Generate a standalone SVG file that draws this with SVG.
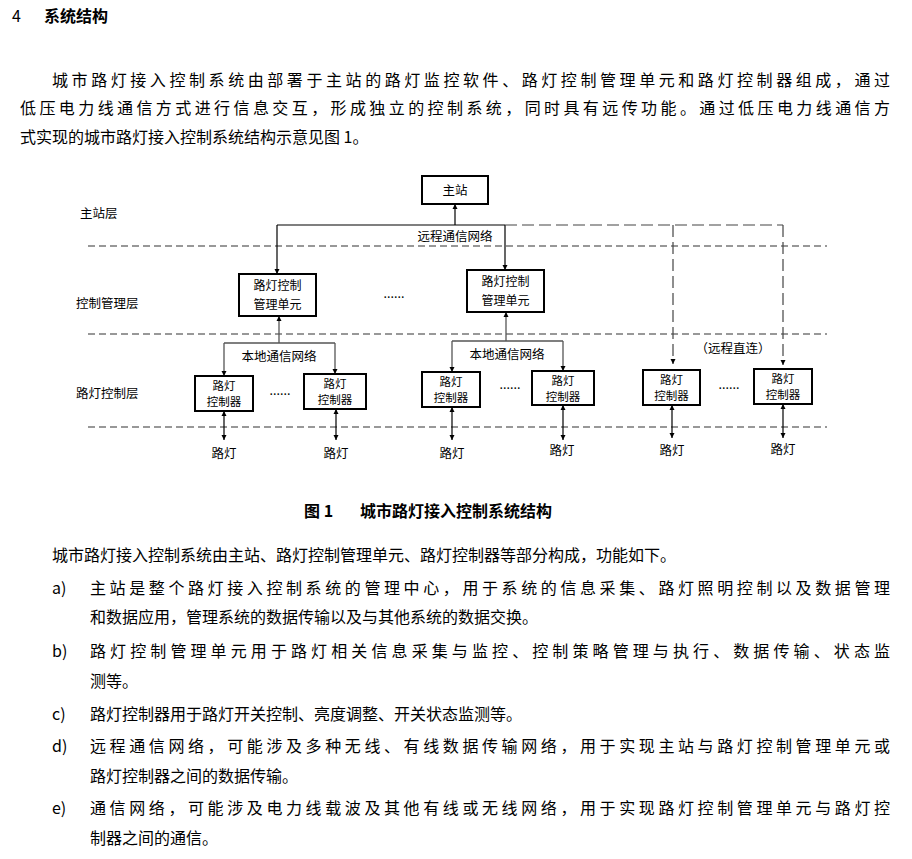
<svg xmlns="http://www.w3.org/2000/svg" width="912" height="859" viewBox="0 0 912 859">
<defs>
<marker id="a" viewBox="0 0 10 10" refX="10" refY="5" markerWidth="5" markerHeight="7" orient="auto-start-reverse" markerUnits="userSpaceOnUse"><path d="M0,0L10,5L0,10z" fill="#000"/></marker>
</defs>
<style>
text{font-family:"Noto Sans CJK SC","Liberation Serif",serif;fill:#000}
.b{font-size:16px}
.d{font-size:12.5px}
.c{font-size:11.5px}
.m{font-size:12px}
.bx{fill:#fff;stroke:#000;stroke-width:2}
.ln{stroke:#000;stroke-width:1.2;fill:none}
.g{stroke:#555;stroke-width:1.3;fill:none}
.dl{stroke:#777;stroke-width:1.5;stroke-dasharray:7,4;fill:none}
.dv{stroke:#444;stroke-width:1.2;stroke-dasharray:12,5;fill:none}
</style>
<rect width="912" height="859" fill="#fff"/>
<text x="12" y="22" class="b">4</text>
<text x="44" y="22" class="b" font-weight="bold">系统结构</text>
<text x="52" y="86" class="b" textLength="838" lengthAdjust="spacing">城市路灯接入控制系统由部署于主站的路灯监控软件、路灯控制管理单元和路灯控制器组成，通过</text>
<text x="20" y="114" class="b" textLength="870" lengthAdjust="spacing">低压电力线通信方式进行信息交互，形成独立的控制系统，同时具有远传功能。通过低压电力线通信方</text>
<text x="20" y="143" class="b">式实现的城市路灯接入控制系统结构示意见图 1。</text>

<g id="layers">
<path class="dl" d="M88,246H827M88,334H827M88,427H827"/>
<text x="80" y="218" class="d">主站层</text>
<text x="76" y="308" class="d">控制管理层</text>
<text x="76" y="398" class="d">路灯控制层</text>
</g>

<g id="connectors">
<path class="ln" d="M455,225V204" marker-end="url(#a)"/>
<path class="ln" d="M277,225H505"/>
<path class="ln" d="M277,225V274" marker-end="url(#a)"/>
<path class="ln" d="M505,225V270" marker-end="url(#a)"/>
<path class="dv" d="M505,225H783"/>
<path class="dv" d="M673,225V364" marker-end="url(#a)"/>
<path class="dv" d="M783,225V365" marker-end="url(#a)"/>
<path class="g" d="M279,343V316" marker-end="url(#a)"/>
<path class="g" d="M224,343H335"/>
<path class="g" d="M224,343V376" marker-end="url(#a)"/>
<path class="g" d="M335,343V374" marker-end="url(#a)"/>
<path class="g" d="M506,341V312" marker-end="url(#a)"/>
<path class="g" d="M452,341H563"/>
<path class="g" d="M452,341V372" marker-end="url(#a)"/>
<path class="g" d="M563,341V371" marker-end="url(#a)"/>
<path class="ln" d="M224,411V440" marker-start="url(#a)" marker-end="url(#a)"/>
<path class="ln" d="M336,409V440" marker-start="url(#a)" marker-end="url(#a)"/>
<path class="ln" d="M452,407V440" marker-start="url(#a)" marker-end="url(#a)"/>
<path class="ln" d="M563,405V440" marker-start="url(#a)" marker-end="url(#a)"/>
<path class="ln" d="M672,405V438" marker-start="url(#a)" marker-end="url(#a)"/>
<path class="ln" d="M783,404V438" marker-start="url(#a)" marker-end="url(#a)"/>
<text x="455" y="241" class="d" text-anchor="middle">远程通信网络</text>
<text x="279" y="361" class="d" text-anchor="middle">本地通信网络</text>
<text x="507" y="359" class="d" text-anchor="middle">本地通信网络</text>
<text x="733" y="353" class="d" text-anchor="middle">（远程直连）</text>
</g>

<g id="master"><rect class="bx" x="422" y="176" width="66" height="28"/><text x="455" y="195" class="d" text-anchor="middle">主站</text></g>
<g id="mgmt1"><rect class="bx" x="239" y="274" width="77" height="42"/><text x="277.5" y="290" class="m" text-anchor="middle">路灯控制</text><text x="277.5" y="309" class="m" text-anchor="middle">管理单元</text></g>
<g id="mgmt2"><rect class="bx" x="467" y="270" width="77" height="42"/><text x="505.5" y="286" class="m" text-anchor="middle">路灯控制</text><text x="505.5" y="305" class="m" text-anchor="middle">管理单元</text></g>
<text x="394" y="298" class="d" text-anchor="middle">......</text>

<g id="c1"><rect class="bx" x="195" y="376" width="58" height="35"/><text x="224" y="390" class="c" text-anchor="middle">路灯</text><text x="224" y="406" class="c" text-anchor="middle">控制器</text></g>
<g id="c2"><rect class="bx" x="304" y="374" width="62" height="35"/><text x="335" y="388" class="c" text-anchor="middle">路灯</text><text x="335" y="404" class="c" text-anchor="middle">控制器</text></g>
<g id="c3"><rect class="bx" x="422" y="372" width="58" height="35"/><text x="451" y="386" class="c" text-anchor="middle">路灯</text><text x="451" y="402" class="c" text-anchor="middle">控制器</text></g>
<g id="c4"><rect class="bx" x="532" y="371" width="62" height="34"/><text x="563" y="385" class="c" text-anchor="middle">路灯</text><text x="563" y="401" class="c" text-anchor="middle">控制器</text></g>
<g id="c5"><rect class="bx" x="643" y="370" width="57" height="35"/><text x="671.5" y="384" class="c" text-anchor="middle">路灯</text><text x="671.5" y="400" class="c" text-anchor="middle">控制器</text></g>
<g id="c6"><rect class="bx" x="754" y="369" width="58" height="35"/><text x="783" y="383" class="c" text-anchor="middle">路灯</text><text x="783" y="399" class="c" text-anchor="middle">控制器</text></g>
<text x="280" y="395" class="d" text-anchor="middle">......</text>
<text x="510" y="389" class="d" text-anchor="middle">......</text>
<text x="729" y="389" class="d" text-anchor="middle">......</text>

<g id="lamps">
<text x="224" y="458" class="d" text-anchor="middle">路灯</text>
<text x="336" y="458" class="d" text-anchor="middle">路灯</text>
<text x="452" y="458" class="d" text-anchor="middle">路灯</text>
<text x="562" y="455" class="d" text-anchor="middle">路灯</text>
<text x="672" y="455" class="d" text-anchor="middle">路灯</text>
<text x="783" y="454" class="d" text-anchor="middle">路灯</text>
</g>

<text x="304" y="517" class="b" font-weight="bold">图 1</text>
<text x="360" y="517" class="b" font-weight="bold">城市路灯接入控制系统结构</text>

<text x="52" y="561" class="b">城市路灯接入控制系统由主站、路灯控制管理单元、路灯控制器等部分构成，功能如下。</text>
<text x="52" y="594" class="b">a)</text>
<text x="90" y="594" class="b" textLength="800" lengthAdjust="spacing">主站是整个路灯接入控制系统的管理中心，用于系统的信息采集、路灯照明控制以及数据管理</text>
<text x="90" y="623" class="b">和数据应用，管理系统的数据传输以及与其他系统的数据交换。</text>
<text x="52" y="657" class="b">b)</text>
<text x="90" y="657" class="b" textLength="800" lengthAdjust="spacing">路灯控制管理单元用于路灯相关信息采集与监控、控制策略管理与执行、数据传输、状态监</text>
<text x="90" y="687" class="b">测等。</text>
<text x="52" y="720" class="b">c)</text>
<text x="90" y="720" class="b">路灯控制器用于路灯开关控制、亮度调整、开关状态监测等。</text>
<text x="52" y="752" class="b">d)</text>
<text x="90" y="752" class="b" textLength="800" lengthAdjust="spacing">远程通信网络，可能涉及多种无线、有线数据传输网络，用于实现主站与路灯控制管理单元或</text>
<text x="90" y="782" class="b">路灯控制器之间的数据传输。</text>
<text x="52" y="814" class="b">e)</text>
<text x="90" y="814" class="b" textLength="800" lengthAdjust="spacing">通信网络，可能涉及电力线载波及其他有线或无线网络，用于实现路灯控制管理单元与路灯控</text>
<text x="90" y="844" class="b">制器之间的通信。</text>
</svg>
